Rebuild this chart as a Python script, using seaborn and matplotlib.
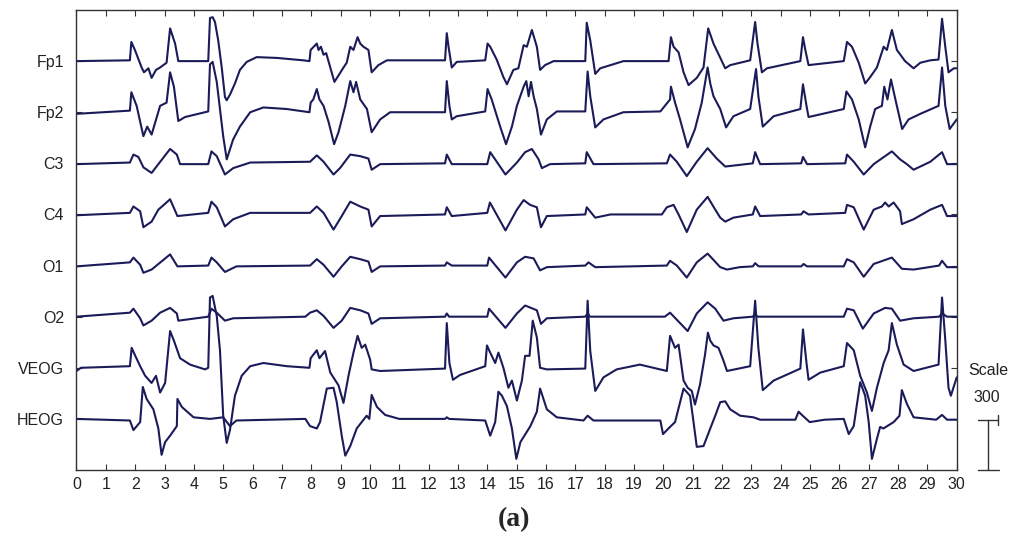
import numpy as np
import pandas as pd
import matplotlib
matplotlib.use("Agg")
import matplotlib.pyplot as plt
import seaborn as sns

# STYLE
sns.set_theme(style="white")
plt.rcParams["font.family"] = ["Liberation Sans Narrow", "Liberation Sans", "DejaVu Sans"]

LINE_COLOR = "#1b1b5a"

# DATA  (time in s, amplitude in uV)
CHANNELS = ["Fp1", "Fp2", "C3", "C4", "O1", "O2", "VEOG", "HEOG"]

FP1 = [(0, 0), (1.82, 5), (1.87, 120), (1.99, 70), (2.22, -40), (2.30, -70), (2.45, -45),
       (2.56, -105), (2.71, -55), (2.85, -40), (3.07, -10), (3.19, 205), (3.36, 110),
       (3.47, 0), (4.49, 0), (4.55, 270), (4.64, 275), (4.72, 245), (4.83, 130), (4.95, -40),
       (5.06, -225), (5.12, -245), (5.23, -210), (5.40, -140), (5.57, -55), (5.80, -5),
       (6.14, 25), (6.83, 20), (7.73, 5), (7.94, 0), (7.98, 70), (8.19, 110), (8.25, 70),
       (8.33, 90), (8.42, 40), (8.51, 50), (8.65, -40), (8.79, -130), (8.93, -90),
       (9.10, -40), (9.21, -10), (9.33, 90), (9.44, 70), (9.58, 150), (9.67, 110),
       (9.78, 90), (9.95, 70), (10.06, -70), (10.29, -25), (10.58, 5), (12.56, 5),
       (12.62, 175), (12.68, 90), (12.79, -40), (12.96, -5), (13.93, 5), (14.01, 110),
       (14.10, 90), (14.32, 10), (14.55, -100), (14.67, -145), (14.89, -55), (15.06, -45),
       (15.24, 100), (15.35, 90), (15.52, 195), (15.69, 90), (15.80, -55), (15.97, -25),
       (16.26, 0), (17.34, 0), (17.39, 240), (17.51, 130), (17.68, -80), (17.85, -45),
       (18.64, 0), (20.18, 0), (20.26, 150), (20.35, 90), (20.52, 55), (20.69, -70),
       (20.86, -150), (21.14, -105), (21.37, -40), (21.53, 205), (21.71, 110),
       (22.11, -45), (22.28, -25), (22.96, 5), (23.13, 245), (23.21, 110), (23.36, -70),
       (23.53, -45), (24.67, 0), (24.76, 150), (24.84, 70), (24.95, -25), (26.15, 0),
       (26.26, 120), (26.43, 90), (26.66, -10), (26.88, -140), (27.05, -100), (27.28, -40),
       (27.51, 90), (27.62, 70), (27.79, 195), (27.96, 70), (28.24, 0), (28.53, -45),
       (28.76, -10), (29.10, 5), (29.38, 10), (29.50, 265), (29.61, 90), (29.72, -70),
       (29.90, -45), (30.0, -45)]

FP2 = [(0, -10), (1.82, 10), (1.87, 125), (2.05, 40), (2.28, -150), (2.41, -90), (2.56, -140),
       (2.85, 40), (3.07, 60), (3.19, 250), (3.32, 160), (3.47, -55), (3.70, -30), (4.49, 5),
       (4.55, 300), (4.64, 315), (4.78, 190), (5.00, -150), (5.12, -295), (5.34, -170),
       (5.57, -90), (5.92, 0), (6.37, 30), (7.17, 20), (7.94, 0), (7.98, 60), (8.07, 80),
       (8.19, 145), (8.28, 80), (8.42, 40), (8.59, -60), (8.78, -200), (8.93, -125),
       (9.16, 40), (9.33, 195), (9.44, 125), (9.53, 190), (9.67, 80), (9.90, 20),
       (10.06, -125), (10.35, -45), (10.69, 0), (12.56, 0), (12.62, 195), (12.71, 40),
       (12.79, -45), (12.96, -25), (13.93, 5), (14.01, 145), (14.15, 80), (14.44, -90),
       (14.64, -200), (14.84, -90), (15.01, 40), (15.24, 160), (15.33, 195), (15.41, 100),
       (15.49, 190), (15.58, 100), (15.69, 20), (15.83, -140), (16.03, -45), (16.37, 5),
       (17.34, 5), (17.42, 255), (17.51, 100), (17.68, -95), (17.96, -45), (18.64, 0),
       (19.90, 5), (20.23, 80), (20.26, 160), (20.40, 60), (20.57, -45), (20.83, -220),
       (21.08, -105), (21.31, 60), (21.51, 280), (21.60, 180), (21.71, 100), (21.94, 20),
       (22.14, -95), (22.39, -25), (22.96, 20), (23.16, 270), (23.24, 100), (23.39, -90),
       (23.76, -25), (24.67, 20), (24.76, 175), (24.88, 40), (24.95, -30), (26.15, 20),
       (26.24, 130), (26.43, 80), (26.66, -45), (26.88, -220), (27.05, -90), (27.22, 20),
       (27.45, 40), (27.53, 160), (27.64, 80), (27.76, 205), (27.91, 80), (28.14, -105),
       (28.36, -45), (28.76, -10), (29.38, 40), (29.50, 280), (29.61, 40), (29.76, -105),
       (30.0, -45)]

C3 = [(0, -5), (1.82, 5), (1.94, 55), (2.11, 40), (2.28, -25), (2.56, -60), (2.79, -5),
      (3.19, 90), (3.42, 55), (3.53, -5), (4.49, -5), (4.60, 75), (4.78, 45), (5.06, -70),
      (5.34, -30), (5.92, 5), (7.96, 10), (8.19, 50), (8.42, 10), (8.76, -70), (8.98, -30),
      (9.33, 55), (9.67, 45), (9.95, 30), (10.06, -40), (10.35, -5), (12.56, 0), (12.62, 55),
      (12.79, -5), (14.0, -5), (14.10, 70), (14.62, -70), (15.01, 5), (15.29, 70),
      (15.52, 90), (15.75, 25), (15.86, -30), (16.14, -5), (17.34, 0), (17.39, 70),
      (17.62, -5), (20.12, 0), (20.23, 55), (20.46, 10), (20.80, -80), (21.14, 10),
      (21.51, 95), (21.82, 30), (22.11, -20), (23.05, 0), (23.13, 70), (23.30, -5),
      (24.70, 0), (24.76, 40), (24.90, -5), (26.20, 0), (26.26, 55), (26.49, 10),
      (26.83, -70), (27.17, -5), (27.79, 75), (28.07, 25), (28.30, -5), (28.53, -40),
      (29.10, 10), (29.50, 70), (29.67, -5), (30.0, -5)]

C4 = [(0, -5), (1.82, 10), (1.94, 50), (2.17, 20), (2.28, -80), (2.56, -45), (2.79, 30),
      (3.19, 95), (3.44, -10), (4.49, 10), (4.60, 80), (4.78, 45), (5.06, -75), (5.34, -30),
      (5.92, 10), (7.96, 10), (8.19, 50), (8.42, 10), (8.76, -95), (9.04, -10), (9.33, 80),
      (9.67, 50), (9.95, 30), (10.06, -75), (10.35, -10), (12.56, 0), (12.62, 45),
      (12.79, -10), (14.0, 10), (14.09, 75), (14.62, -100), (15.01, 30), (15.24, 90),
      (15.46, 60), (15.69, 45), (15.83, -80), (16.03, -10), (17.34, 0), (17.39, 45),
      (17.68, -20), (18.2, 0), (19.95, 0), (20.12, 45), (20.35, 60), (20.52, 0),
      (20.80, -110), (21.14, 30), (21.51, 110), (21.77, 30), (21.94, -20), (22.11, -45),
      (22.39, -20), (23.05, 0), (23.13, 50), (23.30, -10), (24.70, 0), (24.78, 20),
      (24.95, 0), (26.20, 10), (26.26, 60), (26.49, 45), (26.83, -95), (27.17, 30),
      (27.45, 50), (27.56, 75), (27.68, 50), (27.85, 75), (28.07, 20), (28.13, -60),
      (28.53, -30), (29.10, 30), (29.50, 60), (29.67, -10), (30.0, -10)]

O1 = [(0, -5), (1.82, 20), (1.94, 50), (2.17, 5), (2.28, -45), (2.56, -25), (3.19, 70),
      (3.44, -5), (4.49, 0), (4.60, 50), (4.78, 20), (5.06, -40), (5.45, -5), (7.96, 0),
      (8.19, 40), (8.42, 5), (8.76, -70), (9.04, -5), (9.33, 55), (9.67, 40), (9.95, 25),
      (10.06, -40), (10.35, -5), (12.56, 0), (12.62, 20), (12.79, 0), (14.0, 0),
      (14.06, 50), (14.62, -75), (15.01, 20), (15.29, 55), (15.58, 45), (15.80, -30),
      (16.03, -10), (17.34, 0), (17.45, 20), (17.68, -10), (20.12, 0), (20.23, 30),
      (20.46, 0), (20.80, -75), (21.14, 20), (21.51, 75), (21.94, -10), (22.17, -25),
      (22.6, -10), (23.05, -5), (23.13, 15), (23.25, -5), (24.70, -5), (24.78, 10),
      (24.90, -5), (26.15, -5), (26.26, 40), (26.49, 20), (26.83, -70), (27.17, 10),
      (27.79, 50), (28.13, -20), (28.53, -25), (29.40, 0), (29.50, 30), (29.67, -10),
      (30.0, -10)]

O2 = [(0, 0), (1.82, 25), (1.94, 50), (2.17, -10), (2.28, -55), (2.56, -25), (2.85, 25),
      (3.19, 55), (3.42, 20), (3.47, -25), (4.49, 0), (4.60, 50), (4.78, 25), (5.06, -25),
      (5.34, -10), (7.80, 0), (7.96, 25), (8.19, 40), (8.42, 5), (8.76, -70), (9.04, -25),
      (9.33, 55), (9.67, 40), (9.95, 20), (10.06, -45), (10.35, -10), (12.56, 0),
      (12.62, 20), (12.70, 0), (14.0, 0), (14.06, 50), (14.62, -70), (15.01, 20),
      (15.29, 70), (15.69, 40), (15.83, -45), (16.03, -10), (17.34, 0), (17.42, 20),
      (17.50, 0), (20.05, 0), (20.23, 25), (20.83, -90), (21.14, 20), (21.51, 90),
      (21.77, 50), (22.05, -25), (22.39, -10), (23.05, 0), (23.13, 20), (23.20, 0),
      (26.15, 0), (26.26, 50), (26.49, 40), (26.80, -75), (27.17, 20), (27.56, 55),
      (27.79, 50), (28.07, -25), (28.53, -10), (29.40, 0), (29.50, 20), (29.67, 0),
      (30.0, 0)]

VEOG = [(0, -20), (0.15, 0), (1.82, 10), (1.88, 125), (1.99, 80), (2.17, 10), (2.34, -50),
        (2.56, -95), (2.71, -50), (2.85, -155), (3.02, -95), (3.19, 230), (3.32, 170),
        (3.53, 60), (3.87, 20), (4.38, -10), (4.49, 0), (4.55, 440), (4.64, 450),
        (4.78, 325), (4.89, 110), (5.00, -300), (5.12, -470), (5.23, -390), (5.40, -175),
        (5.63, -50), (5.92, 10), (6.37, 30), (7.17, 10), (7.94, 0), (7.98, 60), (8.19, 110),
        (8.28, 60), (8.47, 105), (8.65, -30), (8.93, -110), (9.10, -220), (9.27, -50),
        (9.44, 95), (9.58, 200), (9.72, 125), (9.84, 145), (10.01, 50), (10.06, -10),
        (10.35, -20), (12.56, -5), (12.62, 280), (12.71, 30), (12.83, -75), (13.07, -45),
        (13.93, 10), (13.99, 140), (14.10, 95), (14.27, 30), (14.38, 95), (14.55, 0),
        (14.72, -125), (14.84, -80), (15.01, -205), (15.18, -80), (15.29, 75), (15.44, 75),
        (15.55, 295), (15.69, 190), (15.80, 0), (16.03, -10), (17.34, -5), (17.42, 420),
        (17.51, 105), (17.68, -145), (17.96, -60), (18.41, -10), (19.20, 20), (20.12, -20),
        (20.23, 200), (20.40, 125), (20.52, 145), (20.69, -80), (20.83, -125),
        (20.97, -145), (21.08, -230), (21.25, -105), (21.42, 80), (21.52, 220),
        (21.60, 170), (21.71, 140), (21.88, 125), (22.05, 45), (22.17, -20), (22.96, 10),
        (23.13, 420), (23.24, 125), (23.39, -140), (23.76, -80), (24.67, -5), (24.76, 240),
        (24.88, 30), (24.95, -75), (25.35, -30), (26.15, 10), (26.26, 155), (26.49, 110),
        (26.71, -50), (26.94, -155), (27.11, -270), (27.28, -125), (27.51, 30),
        (27.68, 110), (27.79, 280), (27.96, 145), (28.19, 20), (28.53, -20), (29.38, 20),
        (29.50, 440), (29.61, 175), (29.72, -125), (29.80, -175), (30.0, -60)]

HEOG = [(0, 0), (1.82, -10), (1.94, -70), (2.17, -20), (2.26, 200), (2.39, 125), (2.62, 60),
        (2.79, -60), (2.90, -225), (3.02, -145), (3.19, -105), (3.42, -45), (3.44, 125),
        (3.59, 75), (3.99, 10), (4.55, 0), (5.00, 10), (5.23, -45), (5.45, -10), (7.80, 0),
        (7.96, -45), (8.19, -60), (8.30, -20), (8.53, 190), (8.76, 195), (8.87, 105),
        (9.04, -105), (9.16, -230), (9.33, -170), (9.55, -60), (9.89, 20), (9.98, 0),
        (10.06, 150), (10.24, 75), (10.52, 25), (11.0, 0), (12.56, 0), (12.62, 10),
        (12.70, 0), (13.93, -10), (14.10, -105), (14.27, -20), (14.38, 170), (14.50, 145),
        (14.67, 80), (14.84, -60), (14.99, -250), (15.13, -145), (15.47, -45), (15.69, 45),
        (15.80, 190), (16.03, 60), (16.37, 10), (17.28, -10), (17.42, 20), (17.62, -10),
        (19.90, -10), (19.99, -95), (20.23, -50), (20.40, -20), (20.69, 190), (20.91, 145),
        (21.03, -20), (21.14, -175), (21.37, -170), (21.60, -60), (21.77, 20), (21.94, 105),
        (22.11, 110), (22.28, 60), (22.62, 20), (23.07, 10), (23.30, -5), (24.50, -5),
        (24.61, 45), (24.75, 20), (24.99, -20), (25.5, -5), (26.15, 0), (26.32, -95),
        (26.49, -45), (26.71, 230), (26.88, 145), (27.00, -20), (27.11, -250),
        (27.28, -125), (27.39, -50), (27.50, -60), (27.85, -20), (28.05, 20), (28.13, 180),
        (28.30, 95), (28.53, 10), (29.30, -5), (29.50, 25), (29.67, -5), (30.0, -5)]

TRACES = [FP1, FP2, C3, C4, O1, O2, VEOG, HEOG]

SPACING_UV = 320
SCALE_UV = 300
X_TICKS = list(range(0, 31))


def build_frame():
    rows = []
    n = len(CHANNELS)
    for i, (name, trace) in enumerate(zip(CHANNELS, TRACES)):
        offset = (n - i) * SPACING_UV
        for t, v in trace:
            rows.append({"channel": name, "time": t, "uv": v, "y": v + offset, "offset": offset})
    return pd.DataFrame(rows)


def run():
    df = build_frame()

    fig = plt.figure(figsize=(10.24, 5.44), dpi=100)
    ax = fig.add_axes([0.0747, 0.136, 0.8596, 0.8456])

    for name in CHANNELS:
        sub = df[df["channel"] == name]
        sns.lineplot(data=sub, x="time", y="y", estimator=None, sort=False,
                     color=LINE_COLOR, linewidth=1.5, ax=ax)

    offsets = df.groupby("channel", sort=False)["offset"].first()
    ax.set_xlim(0, 30)
    ax.set_ylim(0, (len(CHANNELS) + 1) * SPACING_UV)
    ax.set_xticks(X_TICKS)
    ax.set_xticklabels([str(x) for x in X_TICKS], fontsize=11.5, color="#222222")
    ax.set_yticks(offsets.values)
    ax.set_yticklabels(offsets.index, fontsize=11.5, color="#222222")
    ax.set_xlabel("")
    ax.set_ylabel("")

    ax.tick_params(axis="both", direction="in", length=4, width=0.8, color="#333333",
                   top=True, right=True, left=True, bottom=True)
    ax.tick_params(axis="x", pad=5)
    ax.tick_params(axis="y", pad=9)
    for side in ax.spines.values():
        side.set_visible(True)
        side.set_color("#333333")
        side.set_linewidth(1.0)
    ax.grid(False)

    # scale bar on the right
    xb = 31.07
    ax.plot([xb, xb], [0, SCALE_UV + 13], color="#333333", lw=1.0, clip_on=False)
    ax.plot([30.73, 31.45], [0, 0], color="#333333", lw=1.0, clip_on=False)
    ax.plot([30.73, 31.41], [SCALE_UV + 13, SCALE_UV + 13], color="#333333", lw=1.0, clip_on=False)
    ax.plot([31.41, 31.41], [SCALE_UV - 18, SCALE_UV + 44], color="#333333", lw=1.0, clip_on=False)
    ax.text(xb, 626, "Scale", ha="center", va="center", fontsize=11.5, color="#222222")
    ax.text(xb - 0.05, 457, str(SCALE_UV), ha="center", va="center", fontsize=11.5, color="#222222")

    fig.text(514 / 1024, 1 - 520 / 544, "(a)", ha="center", va="center",
             fontsize=20, fontweight="bold", family=["Liberation Serif", "DejaVu Serif"])

    fig.savefig("out.png", dpi=100, facecolor="white")
    plt.close(fig)


if __name__ == "__main__":
    run()
